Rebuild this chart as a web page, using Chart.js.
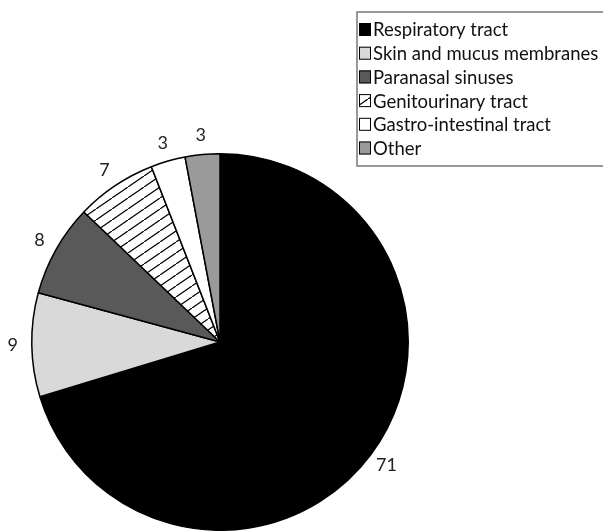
<!DOCTYPE html>
<html>
<head>
<meta charset="utf-8">
<script src="https://cdn.jsdelivr.net/npm/chart.js@4/dist/chart.umd.min.js"></script>
<style>
html,body{margin:0;padding:0;background:#fff;}
#wrap{position:relative;width:603px;height:531px;}
</style>
</head>
<body>
<div id="wrap"><canvas id="c" width="603" height="531"></canvas></div>
<script>
const categories = ["Respiratory tract","Skin and mucus membranes","Paranasal sinuses","Genitourinary tract","Gastro-intestinal tract","Other"];
const values = [71, 9, 8, 7, 3, 3];
const valueLabels = ["71","9","8","7","3","3"];

function hatch(){
  const w = 16, h = 11;
  const cv = document.createElement('canvas');
  cv.width = w; cv.height = h;
  const g = cv.getContext('2d');
  g.fillStyle = '#fff'; g.fillRect(0,0,w,h);
  g.strokeStyle = '#000'; g.lineWidth = 1.2;
  g.beginPath();
  g.moveTo(-1, h + 0.7); g.lineTo(w + 1, -0.7);
  g.stroke();
  return document.createElement('canvas').getContext('2d').createPattern(cv,'repeat');
}
const fills = ['#000000', '#d9d9d9', '#595959', hatch(), '#ffffff', '#9a9a9a'];
const FONT = 'Lato, "DejaVu Sans", sans-serif';

const labelPlugin = {
  id: 'outerLabels',
  afterDatasetsDraw(chart){
    const ctx = chart.ctx;
    const meta = chart.getDatasetMeta(0);
    ctx.save();
    ctx.font = '18px ' + FONT;
    ctx.fillStyle = '#222';
    ctx.textAlign = 'center';
    ctx.textBaseline = 'middle';
    meta.data.forEach((arc, i) => {
      const p = arc.getProps(['x','y','startAngle','endAngle','outerRadius'], true);
      const a = (p.startAngle + p.endAngle) / 2;
      const r = p.outerRadius + 19;
      ctx.fillText(valueLabels[i], p.x + Math.cos(a) * r, p.y + Math.sin(a) * r);
    });
    ctx.restore();
  }
};

const boxLegend = {
  id: 'boxLegend',
  afterDraw(chart){
    const ctx = chart.ctx;
    const ds = chart.data.datasets[0];
    const left = 357, top = 12, bottom = 166;
    ctx.save();
    ctx.fillStyle = '#fff';
    ctx.fillRect(left, top, 610 - left, bottom - top);
    ctx.strokeStyle = '#777';
    ctx.lineWidth = 1.5;
    ctx.strokeRect(left, top, 610 - left, bottom - top);
    ctx.font = '18.5px ' + FONT;
    ctx.textBaseline = 'middle';
    ctx.textAlign = 'left';
    chart.data.labels.forEach((lab, i) => {
      const cy = 29.5 + i * 23.7;
      ctx.fillStyle = ds.backgroundColor[i];
      ctx.fillRect(359, cy - 6.5, 12, 13);
      ctx.strokeStyle = '#000';
      ctx.lineWidth = 1;
      ctx.strokeRect(359.5, cy - 6, 11, 12);
      ctx.fillStyle = '#111';
      ctx.fillText(lab, 373, cy + 1);
    });
    ctx.restore();
  }
};

new Chart(document.getElementById('c'), {
  type: 'pie',
  data: {
    labels: categories,
    datasets: [{
      data: values,
      backgroundColor: fills,
      borderColor: '#000',
      borderWidth: 1.5,
      hoverOffset: 0
    }]
  },
  options: {
    responsive: false,
    animation: false,
    events: [],
    layout: { padding: { left: 30, right: 193, top: 153, bottom: -2 } },
    plugins: { legend: { display: false }, tooltip: { enabled: false } }
  },
  plugins: [labelPlugin, boxLegend]
});
</script>
</body>
</html>
